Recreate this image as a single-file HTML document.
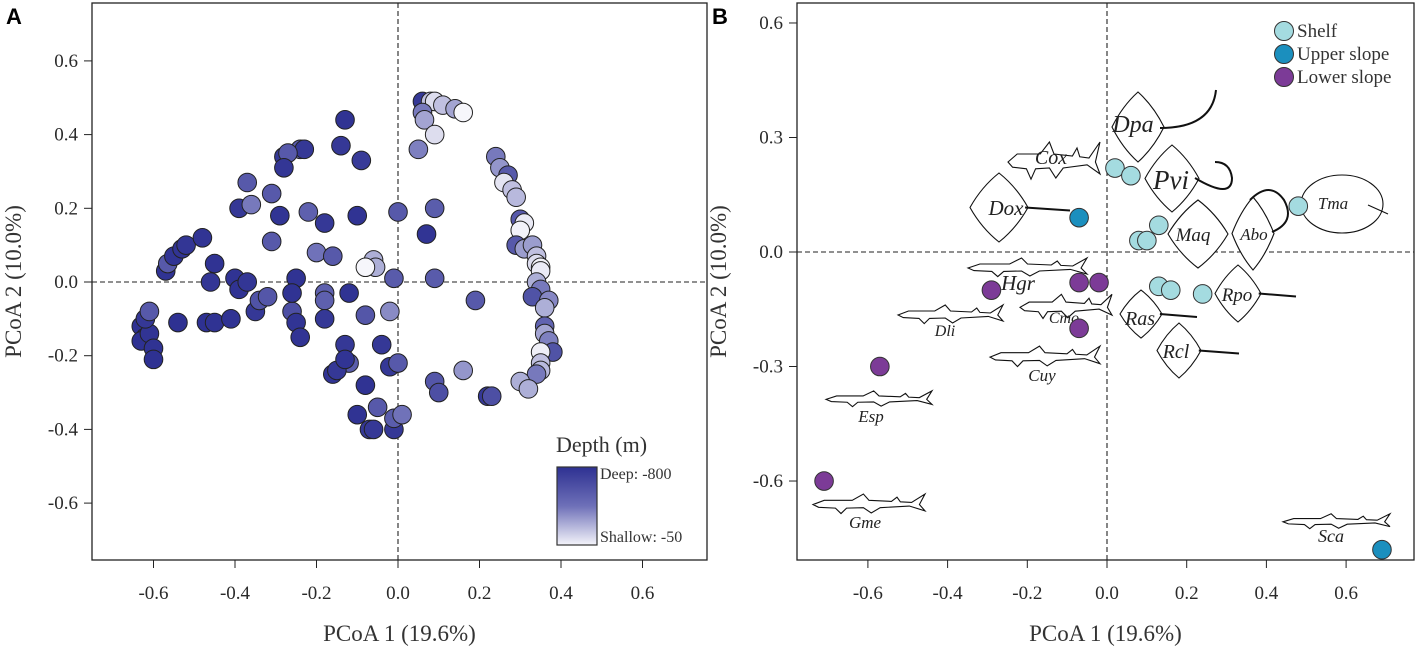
<!DOCTYPE html>
<html><head><meta charset="utf-8">
<style>
html,body{margin:0;padding:0;background:#fff;}
svg{display:block;font-family:"Liberation Serif",serif;}
.tick{font-size:19px;fill:#2a2a2a;}
</style></head>
<body>
<svg id="fig" width="1418" height="647" viewBox="0 0 1418 647" xmlns="http://www.w3.org/2000/svg">
<defs>
<linearGradient id="depthGrad" x1="0" y1="0" x2="0" y2="1">
<stop offset="0" stop-color="#2e3192"/><stop offset="0.5" stop-color="#6e70b8"/><stop offset="1" stop-color="#f4f4fa"/>
</linearGradient>
</defs>
<g id="panelA"></g>
<g id="panelB"></g>
</svg>
<script>
// Panel A data
const pcoa1A=[-0.63,-0.62,-0.63,-0.61,-0.62,-0.61,-0.60,-0.60,-0.57,-0.565,-0.55,-0.53,-0.52,-0.48,-0.54,-0.47,-0.45,-0.41,-0.45,-0.46,-0.40,-0.39,-0.37,-0.35,-0.34,-0.32,-0.26,-0.25,-0.24,-0.25,-0.26,-0.18,-0.18,-0.18,-0.12,-0.08,-0.02,-0.01,0.09,0.19,
-0.13,-0.14,-0.09,-0.24,-0.23,-0.28,-0.27,-0.28,-0.37,-0.31,-0.39,-0.36,-0.29,-0.22,-0.18,-0.10,-0.31,-0.20,-0.16,0.00,0.09,0.07,
-0.06,-0.055,-0.08,
-0.13,-0.12,-0.16,-0.15,-0.13,-0.08,-0.04,-0.02,0.00,-0.10,-0.05,-0.07,-0.06,-0.01,-0.01,0.01,0.09,0.10,0.16,0.22,0.23,
0.06,0.08,0.09,0.11,0.14,0.16,0.06,0.065,0.09,0.05,
0.24,0.25,0.27,0.26,0.28,0.29,0.30,0.31,0.30,0.29,0.31,0.33,0.34,0.34,0.35,0.35,0.34,0.35,0.33,0.37,0.36,0.36,0.36,0.37,0.38,0.35,0.35,0.35,0.34,0.30,0.32];
const pcoa2A=[-0.12,-0.15,-0.16,-0.14,-0.10,-0.08,-0.18,-0.21,0.03,0.05,0.07,0.09,0.10,0.12,-0.11,-0.11,-0.11,-0.10,0.05,0.00,0.01,-0.02,0.00,-0.08,-0.05,-0.04,-0.08,-0.11,-0.15,0.01,-0.03,-0.03,-0.05,-0.10,-0.03,-0.09,-0.08,0.01,0.01,-0.05,
0.44,0.37,0.33,0.36,0.36,0.34,0.35,0.31,0.27,0.24,0.20,0.21,0.18,0.19,0.16,0.18,0.11,0.08,0.07,0.19,0.20,0.13,
0.06,0.04,0.04,
-0.17,-0.22,-0.25,-0.24,-0.21,-0.28,-0.17,-0.23,-0.22,-0.36,-0.34,-0.40,-0.40,-0.40,-0.37,-0.36,-0.27,-0.30,-0.24,-0.31,-0.31,
0.49,0.49,0.49,0.48,0.47,0.46,0.46,0.44,0.40,0.36,
0.34,0.31,0.29,0.27,0.25,0.23,0.17,0.16,0.14,0.10,0.09,0.10,0.07,0.05,0.04,0.03,0.00,-0.02,-0.04,-0.05,-0.07,-0.12,-0.14,-0.16,-0.19,-0.19,-0.22,-0.24,-0.25,-0.27,-0.29];
const depthA=[-800,-790,-800,-780,-760,-560,-790,-800,-790,-560,-780,-780,-770,-780,-800,-800,-790,-790,-790,-770,-790,-790,-770,-760,-600,-580,-620,-780,-780,-790,-790,-520,-520,-760,-790,-580,-350,-550,-550,-560,
-790,-760,-740,-550,-760,-760,-560,-770,-560,-560,-760,-400,-780,-520,-760,-790,-560,-420,-560,-560,-540,-780,
-250,-250,-50,
-760,-540,-780,-760,-780,-790,-760,-760,-560,-790,-560,-760,-760,-760,-540,-420,-580,-620,-320,-760,-620,
-760,-200,-120,-200,-280,-50,-400,-280,-120,-380,
-400,-320,-560,-100,-200,-220,-560,-80,-60,-560,-300,-300,-200,-120,-60,-80,-250,-400,-600,-360,-250,-500,-280,-380,-600,-70,-200,-220,-400,-250,-250];
// Panel B data
const groupsB=["Shelf","Upper slope","Lower slope"];
const shelfX=[0.02,0.06,0.13,0.08,0.10,0.13,0.16,0.24,0.48];
const shelfY=[0.22,0.20,0.07,0.03,0.03,-0.09,-0.10,-0.11,0.12];
const upperX=[-0.07,0.69];
const upperY=[0.09,-0.78];
const lowerX=[-0.07,-0.02,-0.29,-0.07,-0.57,-0.71];
const lowerY=[-0.08,-0.08,-0.10,-0.20,-0.30,-0.60];
const ticksAx=[-0.6,-0.4,-0.2,0.0,0.2,0.4,0.6];
const ticksAy=[-0.6,-0.4,-0.2,0.0,0.2,0.4,0.6];
const ticksBx=[-0.6,-0.4,-0.2,0.0,0.2,0.4,0.6];
const ticksBy=[-0.6,-0.3,0.0,0.3,0.6];

const NS="http://www.w3.org/2000/svg";
function mk(parent,tag,attrs,text){const e=document.createElementNS(NS,tag);for(const k in attrs)e.setAttribute(k,attrs[k]);if(text!==undefined)e.textContent=text;parent.appendChild(e);return e;}

const xA=v=>398+v*407.5, yA=v=>282-v*368.5;
const xB=v=>1107+v*398.5, yB=v=>252-v*381.7;

function panel(g,box,xs,ys,xt,yt){
  const fr=mk(g,'rect',{x:box[0],y:box[1],width:box[2]-box[0],height:box[3]-box[1],fill:'none',stroke:'#222','stroke-width':1.3});
  
  
  const vx=mk(g,'line',{x1:xs(0),x2:xs(0),y1:box[1],y2:box[3],stroke:'#222','stroke-dasharray':'5,3','stroke-width':1.1});
  
  
  const hz=mk(g,'line',{x1:box[0],x2:box[2],y1:ys(0),y2:ys(0),stroke:'#222','stroke-dasharray':'5,3','stroke-width':1.1});
  
  
  xt.forEach(t=>{const x=xs(t);mk(g,'line',{x1:x,x2:x,y1:box[3],y2:box[3]+8,stroke:'#222'});
    const l=mk(g,'text',{x:x,y:box[3]+39,'text-anchor':'middle',class:'tick'},t.toFixed(1));
    
    });
  yt.forEach(t=>{const y=ys(t);mk(g,'line',{x1:box[0]-8,x2:box[0],y1:y,y2:y,stroke:'#222'});
    const l=mk(g,'text',{x:box[0]-14,y:y+6,'text-anchor':'end',class:'tick'},t.toFixed(1));
    
    });
  const xtit=mk(g,'text',{x:(box[0]+box[2])/2,y:641,'text-anchor':'middle','font-size':23,fill:'#333'},'PCoA 1 (19.6%)');
  
  
  const cx=box[0]-71, cy=(box[1]+box[3])/2;
  const ytit=mk(g,'text',{x:cx,y:cy,'text-anchor':'middle','font-size':23,fill:'#333',transform:`rotate(-90 ${cx} ${cy})`},'PCoA 2 (10.0%)');
  
  
}

// Panel A
const gA=document.getElementById('panelA');
const la=mk(gA,'text',{x:6,y:24,'font-family':'Liberation Sans, sans-serif','font-weight':'bold','font-size':22},'A');


panel(gA,[92,3,707,560],xA,yA,ticksAx,ticksAy);
function depthColor(d){const s=Math.max(0,Math.min(1,(d+800)/750));
  const c0=[46,49,146],c1=[110,112,184],c2=[246,246,251];
  let a,b,t; if(s<0.5){a=c0;b=c1;t=s/0.5;}else{a=c1;b=c2;t=(s-0.5)/0.5;}
  return `rgb(${a.map((v,i)=>Math.round(v+(b[i]-v)*t)).join(',')})`;}
pcoa1A.forEach((v,i)=>{
  const c=mk(gA,'circle',{cx:xA(v),cy:yA(pcoa2A[i]),r:9.3,fill:depthColor(depthA[i]),stroke:'#222','stroke-width':1});
  
  
});
const lgA=mk(gA,'g',{});


mk(lgA,'text',{x:556,y:452,'font-size':22,fill:'#333'},'Depth (m)');
mk(lgA,'rect',{x:557,y:467,width:40,height:78,fill:'url(#depthGrad)',stroke:'#333','stroke-width':1.2});
mk(lgA,'text',{x:600,y:479,'font-size':16,fill:'#333'},'Deep: -800');
mk(lgA,'text',{x:600,y:542,'font-size':16,fill:'#333'},'Shallow: -50');

// Panel B
const gB=document.getElementById('panelB');
const lb=mk(gB,'text',{x:712,y:24,'font-family':'Liberation Sans, sans-serif','font-weight':'bold','font-size':22},'B');


panel(gB,[797,3,1414,560],xB,yB,ticksBx,ticksBy);

const sil=mk(gB,'g',{fill:'none',stroke:'#111','stroke-width':1.1});


const sharkN=[[0,.55],[.1,.35],[.35,.35],[.45,.05],[.5,.35],[.7,.4],[.75,.2],[.78,.42],[.88,.45],[1,.05],[.95,.55],[1,.85],[.86,.62],[.6,.7],[.52,.95],[.45,.7],[.3,.72],[.25,.98],[.2,.72],[.05,.68]];
function shark(x0,y0,w,h){const p=sharkN.map(q=>[q[0]*w+x0,q[1]*h+y0]);
  mk(sil,'path',{d:'M'+p.map(q=>q.join(',')).join(' L')+'Z',fill:'#fff'});}
function ray(x0,y0,w,h,tail){const X=f=>x0+w*f,Y=f=>y0+h*f;
  mk(sil,'path',{d:`M${X(0)},${Y(.5)} Q${X(.2)},${Y(.2)} ${X(.5)},${Y(0)} Q${X(.8)},${Y(.2)} ${X(1)},${Y(.5)} Q${X(.8)},${Y(.8)} ${X(.5)},${Y(1)} Q${X(.2)},${Y(.8)} ${X(0)},${Y(.5)}Z`,fill:'#fff'});
  if(tail>0) mk(sil,'path',{d:`M${X(.95)},${Y(.5)} L${X(1)+tail},${Y(.5)+3}`,'stroke-width':2});}
shark(1008,140,92,40); shark(968,257,119,20); shark(898,304,105,20); shark(1020,293,92,26);
shark(990,345,110,22); shark(826,390,106,17); shark(813,493,112,21); shark(1283,513,107,16);
ray(1112,92,52,70,0); mk(sil,'path',{d:'M1160,128 Q1212,128 1216,90','stroke-width':2});
ray(1145,145,54,67,0); mk(sil,'path',{d:'M1195,178 Q1232,200 1232,178 Q1230,162 1215,162','stroke-width':2});
ray(970,173,58,69,42); ray(1168,200,60,68,0); ray(1232,197,42,73,0);
mk(sil,'path',{d:'M1272,232 Q1296,222 1284,200 Q1270,180 1250,200','stroke-width':2});
mk(sil,'ellipse',{cx:1342,cy:204,rx:41,ry:29,fill:'#fff'}); mk(sil,'path',{d:'M1368,205 L1388,214'});
ray(1215,265,46,57,35); ray(1120,290,42,48,35); ray(1157,323,44,55,38);
const spNames=["Dpa","Cox","Pvi","Dox","Tma","Maq","Abo","Hgr","Rpo","Ras","Dli","Cmo","Rcl","Cuy","Esp","Gme","Sca"];
const spPos=[[1133,132,24],[1051,164,20],[1171,189,27],[1006,215,21],[1333,209,17],[1193,241,19],[1254,240,17],[1018,290,21],[1237,301,19],[1140,325,20],[945,336,16],[1064,323,16],[1176,358,20],[1042,381,17],[871,422,17],[865,528,17],[1331,542,18]];
spNames.forEach((n,i)=>{const t=mk(gB,'text',{x:spPos[i][0],y:spPos[i][1],'text-anchor':'middle','font-style':'italic','font-size':spPos[i][2],fill:'#222'},n);
  
  });
const colB=['#a4dbe0','#1b8fbe','#7c3b97'];
[[shelfX,shelfY],[upperX,upperY],[lowerX,lowerY]].forEach((s,gi)=>{
  s[0].forEach((v,i)=>{const c=mk(gB,'circle',{cx:xB(v),cy:yB(s[1][i]),r:9.3,fill:colB[gi],stroke:'#333','stroke-width':1});
    
    });});
const lgB=mk(gB,'g',{});


groupsB.forEach((n,i)=>{const y=31+i*23;
  mk(lgB,'circle',{cx:1284,cy:y,r:9.5,fill:colB[i],stroke:'#333','stroke-width':1});
  mk(lgB,'text',{x:1297,y:y+6,'font-size':19,fill:'#333'},n);});
</script>
</body></html>
